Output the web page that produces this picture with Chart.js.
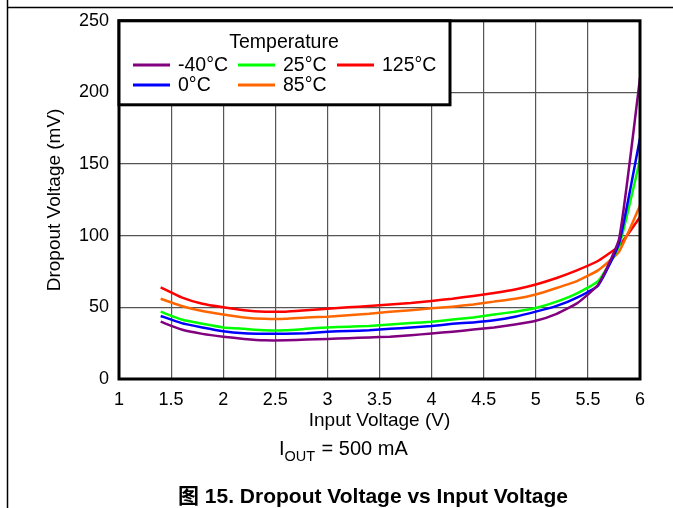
<!DOCTYPE html>
<html>
<head>
<meta charset="utf-8">
<script src="https://cdn.jsdelivr.net/npm/chart.js@4/dist/chart.umd.min.js"></script>
<style>
  html, body { margin: 0; padding: 0; background: #fff; }
  #wrap { width: 673px; height: 508px; position: relative; }
</style>
</head>
<body>
<div id="wrap"><canvas id="dropoutChart" width="673" height="508"></canvas></div>
<script>
// input voltage (V) sample points
const inputVoltage = [1.4, 1.6, 1.8, 2.0, 2.2, 2.4, 2.6, 2.8, 3.0, 3.2, 3.4, 3.6,
  3.8, 4.0, 4.2, 4.4, 4.6, 4.8, 5.0, 5.2, 5.4, 5.6, 5.8, 6.0];

// dropout voltage (mV) per temperature
const dropM40 = [40, 34.5, 31.5, 29.5, 28, 27, 27, 27.5, 28, 28.5, 29, 29.5,
  30.5, 31.8, 33, 34.5, 36, 38, 40.6, 45.5, 53, 66, 98, 210];
const drop0 = [44, 39, 36, 33.4, 32, 31.6, 31.6, 32, 33, 33.5, 34, 35,
  36, 37, 38.5, 39.5, 41, 43.5, 47, 51, 57, 65.5, 95, 168];
const drop25 = [47, 41.5, 38.5, 36, 35, 34, 34, 35, 36, 36.5, 37, 38,
  39, 40, 41.5, 43, 45, 47, 49.6, 54, 60, 68.5, 93, 153];
const drop85 = [56, 51, 47.5, 45, 43, 42, 42, 43, 43.5, 44.5, 45.5, 47,
  48, 49.3, 50.5, 52, 54, 56, 59, 63.5, 68.5, 76, 89, 121];
const drop125 = [64, 57, 52.5, 50, 48, 47, 47, 48, 49, 50, 51, 52,
  53, 54.5, 56, 58, 60, 62.5, 66, 70.5, 76, 82.5, 93, 113];

const seriesLabels = ['-40°C', '0°C', '25°C', '85°C', '125°C'];
const seriesColors = ['#800080', '#0000ff', '#00ff00', '#ff6600', '#ff0000'];
const seriesData = [dropM40, drop0, drop25, drop85, drop125];

const FONT = "'Liberation Sans', Arial, 'Noto Sans CJK SC', sans-serif";

function toPoints(ys) {
  return ys.map((y, i) => ({ x: inputVoltage[i], y: y }));
}

// page frame, plot frame, legend box and the notes under the chart
const decorPlugin = {
  id: 'decor',
  beforeDraw(chart) {
    const ctx = chart.ctx;
    ctx.save();
    ctx.strokeStyle = '#000';
    ctx.lineWidth = 1.5;
    ctx.beginPath();
    ctx.moveTo(7.5, 0); ctx.lineTo(7.5, 508);
    ctx.moveTo(7.5, 7.5); ctx.lineTo(673, 7.5);
    ctx.stroke();
    ctx.restore();
  },
  afterDraw(chart) {
    const ctx = chart.ctx;
    const a = chart.chartArea;
    ctx.save();
    // plot frame
    ctx.strokeStyle = '#000';
    ctx.lineWidth = 3;
    ctx.strokeRect(a.left, a.top, a.right - a.left, a.bottom - a.top);

    // legend box (column by column: -40/0, 25/85, 125)
    const lx = a.left, ly = a.top, lw = 331, lh = 84;
    ctx.fillStyle = '#fff';
    ctx.fillRect(lx, ly, lw, lh);
    ctx.strokeRect(lx, ly, lw, lh);
    ctx.fillStyle = '#000';
    ctx.font = '19.5px ' + FONT;
    ctx.textBaseline = 'middle';
    ctx.textAlign = 'center';
    ctx.fillText('Temperature', 284, 43);
    ctx.textAlign = 'left';
    const cols = [133, 238, 337];
    const rows = [65, 85];
    chart.data.datasets.forEach((ds, i) => {
      const x = cols[Math.floor(i / 2)], y = rows[i % 2];
      ctx.strokeStyle = ds.borderColor;
      ctx.lineWidth = 3;
      ctx.beginPath();
      ctx.moveTo(x, y); ctx.lineTo(x + 37, y);
      ctx.stroke();
      ctx.fillStyle = '#000';
      ctx.fillText(ds.label, x + 45, y + 1);
    });

    // I_OUT note
    ctx.textBaseline = 'alphabetic';
    ctx.fillStyle = '#000';
    ctx.font = '20px ' + FONT;
    ctx.fillText('I', 279, 455);
    ctx.font = '14.5px ' + FONT;
    ctx.fillText('OUT', 284.5, 461);
    ctx.font = '20px ' + FONT;
    ctx.fillText(' = 500 mA', 316, 455);

    // caption
    ctx.font = 'bold 21px ' + FONT;
    ctx.textAlign = 'center';
    ctx.fillText('图 15. Dropout Voltage vs Input Voltage', 373, 503);
    ctx.restore();
  }
};

new Chart(document.getElementById('dropoutChart').getContext('2d'), {
  type: 'line',
  data: {
    datasets: seriesData.map((ys, i) => ({
      label: seriesLabels[i],
      data: toPoints(ys),
      borderColor: seriesColors[i],
      backgroundColor: seriesColors[i],
      borderWidth: 2.5,
      pointRadius: 0,
      tension: 0.15,
      fill: false
    }))
  },
  options: {
    responsive: false,
    animation: false,
    layout: { padding: { left: 0, right: 33, top: 20, bottom: 76 } },
    plugins: {
      legend: { display: false },
      tooltip: { enabled: false }
    },
    scales: {
      x: {
        type: 'linear',
        min: 1, max: 6,
        afterFit(scale) { scale.height = 53; },
        ticks: {
          stepSize: 0.5,
          color: '#000',
          padding: 10,
          maxRotation: 0,
          font: { family: FONT, size: 18 },
          callback: (v) => String(Number(v))
        },
        grid: { color: '#555', lineWidth: 1.2, drawTicks: false },
        border: { display: false },
        title: {
          display: true,
          text: 'Input Voltage (V)',
          color: '#000',
          padding: { top: 0, bottom: 0 },
          font: { family: FONT, size: 19 }
        }
      },
      y: {
        min: 0, max: 250,
        afterFit(scale) { scale.width = 119; },
        ticks: {
          stepSize: 50,
          color: '#000',
          padding: 10,
          font: { family: FONT, size: 18 }
        },
        grid: { color: '#555', lineWidth: 1.2, drawTicks: false },
        border: { display: false },
        title: {
          display: true,
          text: 'Dropout Voltage (mV)',
          color: '#000',
          padding: { top: 43, bottom: 0 },
          font: { family: FONT, size: 19 }
        }
      }
    }
  },
  plugins: [decorPlugin]
});
</script>
</body>
</html>
